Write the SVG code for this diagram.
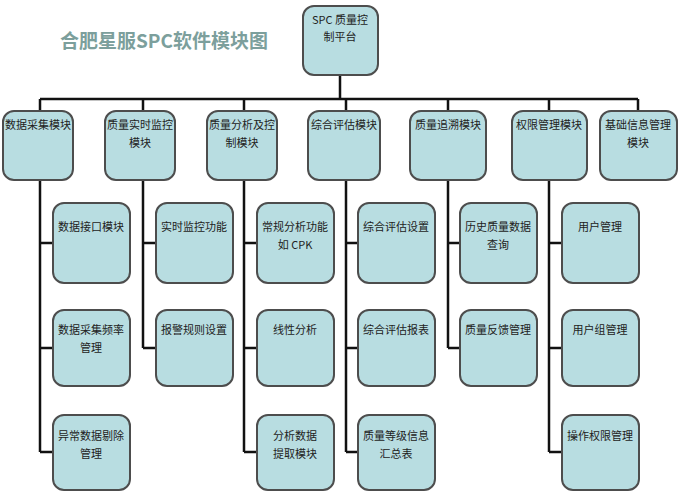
<svg xmlns="http://www.w3.org/2000/svg" width="681" height="500" viewBox="0 0 681 500">
<style>
.b{fill:#b8dde1;stroke:#4d4d4d;stroke-width:2}
.t{font-family:"Noto Sans CJK SC","Liberation Sans",sans-serif;font-size:11px;fill:#222;text-anchor:middle}
.c{stroke:#111;stroke-width:2.5;fill:none}
</style>
<rect width="681" height="500" fill="#fff"/>
<text x="164" y="48" font-family="Noto Sans CJK SC,sans-serif" font-size="19" font-weight="bold" fill="#7c9f9c" text-anchor="middle">合肥星服SPC软件模块图</text>
<g id="connectors" class="c">
<path d="M340 75V99M40 99H638M40 99V111M143 99V111M244 99V111M346 99V111M448 99V111M549 99V111M638 99V111"/>
<path d="M40 180V452M40 243H53M40 348H53M40 452H53"/>
<path d="M143 180V348M143 243H156M143 348H156"/>
<path d="M244 180V452M244 243H257M244 348H257M244 452H257"/>
<path d="M346 180V452M346 243H358M346 348H358M346 452H358"/>
<path d="M448 180V348M448 243H460M448 348H460"/>
<path d="M549 180V452M549 243H562M549 348H562M549 452H562"/>
</g>
<g id="root"><rect class="b" x="303" y="6" width="75" height="69" rx="11"/><text class="t" x="340" y="24">SPC 质量控</text><text class="t" x="340" y="41">制平台</text></g>
<g id="m1"><rect class="b" x="3" y="111" width="70" height="69" rx="11"/><text class="t" x="38" y="129">数据采集模块</text></g>
<g id="m2"><rect class="b" x="105" y="111" width="70" height="69" rx="11"/><text class="t" x="140" y="129">质量实时监控</text><text class="t" x="140" y="147">模块</text></g>
<g id="m3"><rect class="b" x="207" y="111" width="70" height="69" rx="11"/><text class="t" x="242" y="129">质量分析及控</text><text class="t" x="242" y="147">制模块</text></g>
<g id="m4"><rect class="b" x="308" y="111" width="72" height="69" rx="11"/><text class="t" x="344" y="129">综合评估模块</text></g>
<g id="m5"><rect class="b" x="410" y="111" width="76" height="69" rx="11"/><text class="t" x="448" y="129">质量追溯模块</text></g>
<g id="m6"><rect class="b" x="512" y="111" width="75" height="69" rx="11"/><text class="t" x="549" y="129">权限管理模块</text></g>
<g id="m7"><rect class="b" x="600" y="111" width="77" height="69" rx="11"/><text class="t" x="638" y="129">基础信息管理</text><text class="t" x="638" y="147">模块</text></g>
<g id="c11"><rect class="b" x="53" y="203" width="77" height="80" rx="11"/><text class="t" x="91" y="231">数据接口模块</text></g>
<g id="c12"><rect class="b" x="53" y="310" width="77" height="76" rx="11"/><text class="t" x="91" y="334">数据采集频率</text><text class="t" x="91" y="352">管理</text></g>
<g id="c13"><rect class="b" x="53" y="415" width="77" height="75" rx="11"/><text class="t" x="91" y="440">异常数据剔除</text><text class="t" x="91" y="458">管理</text></g>
<g id="c21"><rect class="b" x="156" y="203" width="77" height="80" rx="11"/><text class="t" x="194" y="231">实时监控功能</text></g>
<g id="c22"><rect class="b" x="156" y="310" width="77" height="76" rx="11"/><text class="t" x="194" y="334">报警规则设置</text></g>
<g id="c31"><rect class="b" x="257" y="203" width="77" height="80" rx="11"/><text class="t" x="295" y="231">常规分析功能</text><text class="t" x="295" y="249">如 CPK</text></g>
<g id="c32"><rect class="b" x="257" y="310" width="77" height="76" rx="11"/><text class="t" x="295" y="334">线性分析</text></g>
<g id="c33"><rect class="b" x="257" y="415" width="77" height="75" rx="11"/><text class="t" x="295" y="440">分析数据</text><text class="t" x="295" y="458">提取模块</text></g>
<g id="c41"><rect class="b" x="358" y="203" width="77" height="80" rx="11"/><text class="t" x="396" y="231">综合评估设置</text></g>
<g id="c42"><rect class="b" x="358" y="310" width="77" height="76" rx="11"/><text class="t" x="396" y="334">综合评估报表</text></g>
<g id="c43"><rect class="b" x="358" y="415" width="77" height="75" rx="11"/><text class="t" x="396" y="440">质量等级信息</text><text class="t" x="396" y="458">汇总表</text></g>
<g id="c51"><rect class="b" x="460" y="203" width="77" height="80" rx="11"/><text class="t" x="498" y="231">历史质量数据</text><text class="t" x="498" y="249">查询</text></g>
<g id="c52"><rect class="b" x="460" y="310" width="77" height="76" rx="11"/><text class="t" x="498" y="334">质量反馈管理</text></g>
<g id="c61"><rect class="b" x="562" y="203" width="77" height="80" rx="11"/><text class="t" x="600" y="231">用户管理</text></g>
<g id="c62"><rect class="b" x="562" y="310" width="77" height="76" rx="11"/><text class="t" x="600" y="334">用户组管理</text></g>
<g id="c63"><rect class="b" x="562" y="415" width="77" height="75" rx="11"/><text class="t" x="600" y="440">操作权限管理</text></g>
</svg>
